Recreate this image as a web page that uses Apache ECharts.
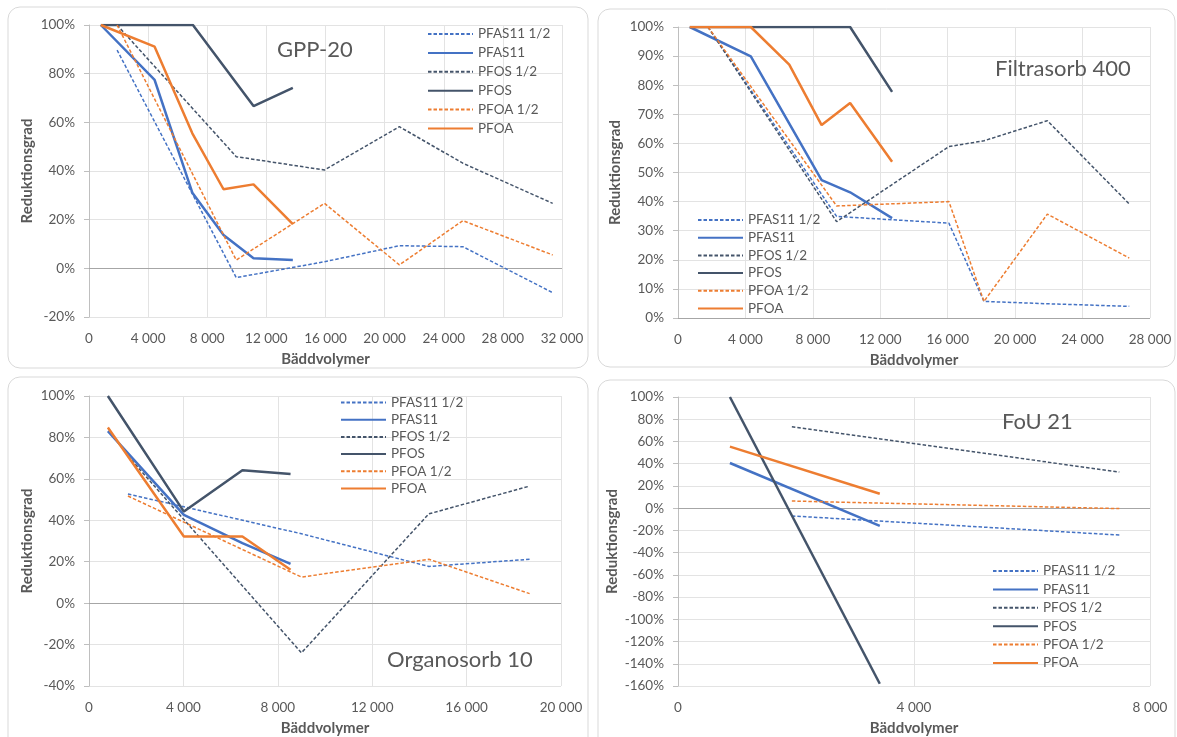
<!DOCTYPE html>
<html>
<head>
<meta charset="utf-8">
<script src="https://cdn.jsdelivr.net/npm/echarts@6/dist/echarts.min.js"></script>
<style>
html,body{margin:0;padding:0;background:#fff;}
#c{width:1177px;height:737px;}
</style>
</head>
<body>
<div id="c"></div>
<script>
// ---------- Data (x = bäddvolymer, y = reduktionsgrad in %) ----------
const seriesNames = ['PFAS11 1/2', 'PFAS11', 'PFOS 1/2', 'PFOS', 'PFOA 1/2', 'PFOA'];
const panelTitles = ['GPP-20', 'Filtrasorb 400', 'Organosorb 10', 'FoU 21'];

// GPP-20
const gpp_PFAS11_half = [[1900, 89.7], [9960, -3.8], [15930, 2.7], [21000, 9.3], [25290, 8.9], [31370, -10]];
const gpp_PFAS11 = [[800, 100], [4440, 77.4], [6990, 31.1], [9100, 13.7], [11130, 4.1], [13790, 3.4]];
const gpp_PFOS_half = [[1900, 100], [9960, 45.9], [15930, 40.4], [21000, 58.2], [25290, 43.2], [31370, 26.7]];
const gpp_PFOS = [[800, 100], [7030, 100], [11130, 66.7], [13790, 74.2]];
const gpp_PFOA_half = [[1900, 100], [9960, 3.4], [15930, 26.7], [21000, 1.4], [25290, 19.6], [31370, 5.5]];
const gpp_PFOA = [[800, 100], [4440, 91.1], [6990, 55.5], [9100, 32.5], [11130, 34.5], [13790, 18.2]];

// Filtrasorb 400
const f400_PFAS11_half = [[1780, 100], [9410, 34.9], [16070, 32.6], [18150, 5.7], [21910, 4.9], [26770, 4.0]];
const f400_PFAS11 = [[700, 100], [4320, 89.9], [8520, 47.4], [10210, 43.2], [12700, 34.3]];
const f400_PFOS_half = [[1780, 100], [9410, 33.1], [16070, 58.9], [18150, 60.9], [21910, 67.8], [26770, 39.2]];
const f400_PFOS = [[700, 100], [4320, 100], [10210, 100], [12700, 77.7]];
const f400_PFOA_half = [[1780, 100], [9410, 38.5], [16070, 40.0], [18150, 5.7], [21910, 35.7], [26770, 20.6]];
const f400_PFOA = [[700, 100], [4320, 100], [6600, 87.1], [8520, 66.3], [10210, 73.9], [12700, 53.7]];

// Organosorb 10
const org_PFAS11_half = [[1650, 52.7], [9000, 33.5], [14400, 17.7], [18670, 21.2]];
const org_PFAS11 = [[800, 83], [4020, 42.6], [6500, 29], [8540, 19]];
const org_PFOS_half = [[1650, 71], [9000, -24], [14400, 43.1], [18670, 56.5]];
const org_PFOS = [[800, 100], [4020, 44.2], [6500, 64.2], [8540, 62.3]];
const org_PFOA_half = [[1650, 51.7], [9000, 12.6], [14400, 21.2], [18670, 4.6]];
const org_PFOA = [[800, 84.8], [4020, 32.2], [6500, 32.2], [8540, 16.1]];

// FoU 21
const fou_PFAS11_half = [[1930, -7], [7480, -24.2]];
const fou_PFAS11 = [[880, 40.6], [3420, -15.9]];
const fou_PFOS_half = [[1930, 73.3], [7480, 32.5]];
const fou_PFOS = [[880, 100], [3420, -158]];
const fou_PFOA_half = [[1930, 6.4], [7480, -0.4]];
const fou_PFOA = [[880, 55.4], [3420, 13]];

// Axis ranges
const xMax = [32000, 28000, 20000, 8000];
const xInterval = [4000, 4000, 4000, 4000];
const yMin = [-20, 0, -40, -160];
const yMax = [100, 100, 100, 100];
const yInterval = [20, 10, 20, 20];

const panelData = [
  [gpp_PFAS11_half, gpp_PFAS11, gpp_PFOS_half, gpp_PFOS, gpp_PFOA_half, gpp_PFOA],
  [f400_PFAS11_half, f400_PFAS11, f400_PFOS_half, f400_PFOS, f400_PFOA_half, f400_PFOA],
  [org_PFAS11_half, org_PFAS11, org_PFOS_half, org_PFOS, org_PFOA_half, org_PFOA],
  [fou_PFAS11_half, fou_PFAS11, fou_PFOS_half, fou_PFOS, fou_PFOA_half, fou_PFOA]
];

// ---------- Layout / style ----------
const FONT = 'Lato, "Open Sans", sans-serif';
const TXT = '#595959';
const colors = ['#4472C4', '#4472C4', '#44546A', '#44546A', '#ED7D31', '#ED7D31'];
const dashed = [true, false, true, false, true, false];

const grids = [
  {left: 89, top: 25, width: 473, height: 292},
  {left: 678, top: 27, width: 472, height: 291},
  {left: 89, top: 396, width: 472, height: 291},
  {left: 678, top: 397, width: 472, height: 291}
];
const cards = [
  {x: 8, y: 7, width: 580, height: 361},
  {x: 598, y: 9, width: 577, height: 358},
  {x: 8, y: 377, width: 580, height: 375},
  {x: 598, y: 380, width: 577, height: 375}
];
const yNameGap = [54, 55, 54, 58];
const titlePos = [
  {left: 277, top: 39}, {left: 995, top: 58}, {left: 387, top: 649}, {left: 1002, top: 411}
];
const legendPos = [
  {left: 427, top: 27, itemGap: 4.9},
  {left: 697, top: 213, itemGap: 3.7},
  {left: 340, top: 395.5, itemGap: 3.2},
  {left: 992, top: 564, itemGap: 4.4}
];

function fmtThousands(v) {
  return String(v).replace(/\B(?=(\d{3})+(?!\d))/g, ' ');
}

const option = {
  animation: false,
  backgroundColor: '#ffffff',
  graphic: cards.map(c => ({
    type: 'rect', z: -10, silent: true,
    shape: {x: c.x, y: c.y, width: c.width, height: c.height, r: 12},
    style: {fill: '#ffffff', stroke: '#d9d9d9', lineWidth: 1}
  })),
  title: panelTitles.map((t, i) => ({
    text: t, left: titlePos[i].left, top: titlePos[i].top, padding: 0,
    textStyle: {fontFamily: FONT, fontSize: 22, fontWeight: 'normal', color: TXT}
  })),
  legend: legendPos.map(p => ({
    orient: 'vertical', left: p.left, top: p.top, itemGap: p.itemGap,
    itemWidth: 45, itemHeight: 12, padding: 0,
    data: seriesNames,
    itemStyle: {opacity: 0},
    textStyle: {fontFamily: FONT, fontSize: 13.5, color: TXT}
  })),
  grid: grids,
  xAxis: grids.map((g, i) => ({
    type: 'value', gridIndex: i, min: 0, max: xMax[i], interval: xInterval[i],
    axisLine: {show: false, onZero: false},
    axisTick: {show: false},
    splitLine: {show: true, lineStyle: {color: '#e3e3e3', width: 1}},
    axisLabel: {fontFamily: FONT, fontSize: 13.5, color: TXT, margin: 15, formatter: fmtThousands},
    name: 'Bäddvolymer', nameLocation: 'middle', nameGap: 35,
    nameTextStyle: {fontFamily: FONT, fontSize: 15, fontWeight: 'bold', color: TXT}
  })),
  yAxis: grids.map((g, i) => ({
    type: 'value', gridIndex: i, min: yMin[i], max: yMax[i], interval: yInterval[i],
    axisLine: {show: true, lineStyle: {color: '#bfbfbf', width: 1}},
    axisTick: {show: true, inside: false, length: 5, lineStyle: {color: '#bfbfbf'}},
    splitLine: {show: true, lineStyle: {color: '#e3e3e3', width: 1}},
    axisLabel: {fontFamily: FONT, fontSize: 13.5, color: TXT, margin: 14, formatter: '{value}%'},
    name: 'Reduktionsgrad', nameLocation: 'middle', nameGap: yNameGap[i],
    nameTextStyle: {fontFamily: FONT, fontSize: 15, fontWeight: 'bold', color: TXT}
  })),
  series: []
};

panelData.forEach((list, p) => {
  list.forEach((data, k) => {
    const s = {
      type: 'line', name: seriesNames[k], xAxisIndex: p, yAxisIndex: p,
      data: data, symbol: 'none', showSymbol: false,
      color: colors[k],
      lineStyle: dashed[k]
        ? {color: colors[k], width: 1.5, type: [3.5, 2]}
        : {color: colors[k], width: 2.5, type: 'solid'},
      z: 3 + k
    };
    if (k === 0) {
      s.markLine = {
        silent: true, symbol: 'none', label: {show: false}, z: 1,
        lineStyle: {color: '#a6a6a6', width: 1, type: 'solid'},
        data: [{yAxis: 0}]
      };
    }
    option.series.push(s);
  });
});

const chart = echarts.init(document.getElementById('c'), null, {renderer: 'canvas'});
chart.setOption(option);
</script>
</body>
</html>
